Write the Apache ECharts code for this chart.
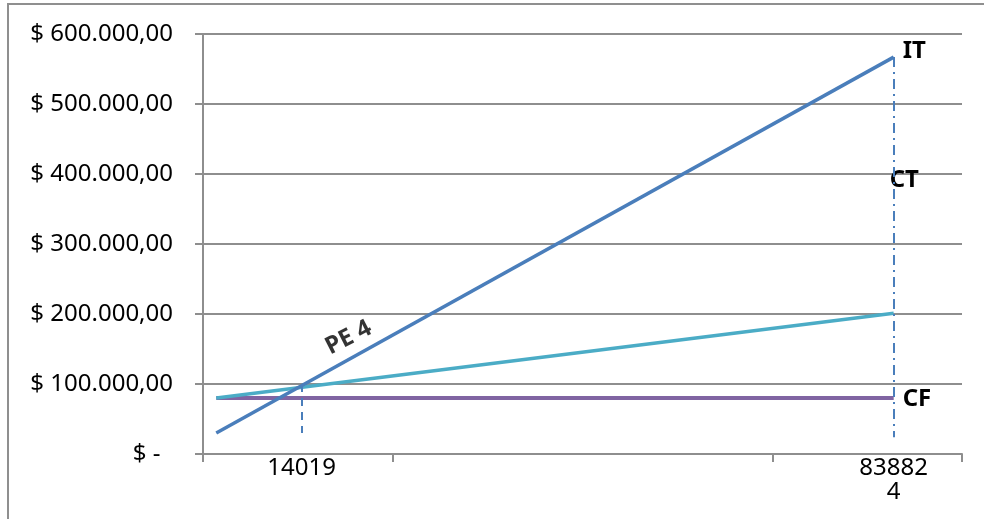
<!DOCTYPE html>
<html>
<head>
<meta charset="utf-8">
<script src="https://cdn.jsdelivr.net/npm/echarts@6/dist/echarts.min.js"></script>
<style>
	html, body { margin: 0; padding: 0; background: #fff; }
	#chart { width: 984px; height: 519px; }
</style>
</head>
<body>
<div id="chart"></div>
<script>
// position of the line ends / breakeven on the horizontal axis (axis runs 0..4)
var xLine = [0.07, 3.64];
var xPE = 0.52;
var unitLabels = ['14019', '838824'];

// values in $
var ingresoTotal = [30000, 567000];   // IT
var costoTotal = [80000, 201000];     // CT
var costoFijo = [80000, 80000];       // CF
var pePoint = [xPE, 100000];
var peDropTo = 30000;
var endDropTo = 24000;

var FONT = 'Noto Sans';
var BLUE = '#4a7ebb', AQUA = '#4bacc6', PURPLE = '#8064a2', GRID = '#8e8e8e';

function money(v) {
	if (v === 0) return '$ -  ';
	var s = String(Math.round(v)).replace(/\B(?=(\d{3})+(?!\d))/g, '.');
	return '$ ' + s + ',00';
}

function pairs(ys) {
	return ys.map(function (y, i) { return [xLine[i], y]; });
}

function endLabel(text, extra) {
	var l = {
		show: true, formatter: text, distance: 9,
		fontFamily: FONT, fontSize: 24, fontWeight: 'bold', color: '#000'
	};
	for (var k in extra) l[k] = extra[k];
	return l;
}

var chart = echarts.init(document.getElementById('chart'));

var option = {
	animation: false,
	grid: { left: 203, right: 22, top: 34, bottom: 65 },
	graphic: [{
		type: 'rect', silent: true, z: -10,
		shape: { x: 8, y: 4, width: 1000, height: 600 },
		style: { fill: 'none', stroke: '#8f8f8f', lineWidth: 2 }
	}],
	xAxis: {
		type: 'value', min: 0, max: 4, interval: 1,
		splitLine: { show: false },
		axisLine: { show: true, lineStyle: { color: GRID, width: 2 } },
		axisTick: { show: true, length: 8, customValues: [0, 1, 3, 4], lineStyle: { color: GRID, width: 2 } },
		axisLabel: {
			customValues: [xPE, xLine[1]],
			formatter: function (v) { return v === xPE ? unitLabels[0] : unitLabels[1]; },
			fontFamily: FONT, fontSize: 24, color: '#000', margin: 2,
			width: 74, overflow: 'breakAll', lineHeight: 24
		}
	},
	yAxis: {
		type: 'value', min: 0, max: 600000, interval: 100000,
		axisLine: { show: true, lineStyle: { color: GRID, width: 2 } },
		axisTick: { show: true, length: 8, lineStyle: { color: GRID, width: 2 } },
		splitLine: { show: true, lineStyle: { color: GRID, width: 2 } },
		axisLabel: {
			formatter: money, fontFamily: FONT, fontSize: 24, color: '#000', margin: 30
		}
	},
	series: [
		{
			name: 'CF', type: 'line', symbol: 'none', z: 2,
			lineStyle: { color: PURPLE, width: 4 },
			endLabel: endLabel('CF', { offset: [0, 1] }),
			data: pairs(costoFijo)
		},
		{
			name: 'CT', type: 'line', symbol: 'none', z: 3,
			lineStyle: { color: AQUA, width: 3.5 },
			endLabel: endLabel('CT', { distance: 0, offset: [-4, -133] }),
			data: pairs(costoTotal)
		},
		{
			name: 'IT', type: 'line', symbol: 'none', z: 4,
			lineStyle: { color: BLUE, width: 3.5 },
			endLabel: endLabel('IT', { offset: [0, -6] }),
			data: pairs(ingresoTotal),
			markLine: {
				silent: true, symbol: 'none', label: { show: false },
				data: [
					[{ coord: [xPE, pePoint[1]], lineStyle: { color: BLUE, width: 2, type: [8, 6] } },
					 { coord: [xPE, peDropTo] }],
					[{ coord: [xLine[1], ingresoTotal[1]], lineStyle: { color: BLUE, width: 2, type: [10, 5, 2, 5] } },
					 { coord: [xLine[1], endDropTo] }]
				]
			}
		},
		{
			name: 'PE', type: 'scatter', symbolSize: 0, z: 5,
			data: [pePoint],
			label: {
				show: true, formatter: 'PE 4', position: 'inside', rotate: 27, offset: [63, -20],
				fontFamily: FONT, fontSize: 24, fontWeight: 'bold', color: '#000'
			}
		}
	]
};

chart.setOption(option);
</script>
</body>
</html>
